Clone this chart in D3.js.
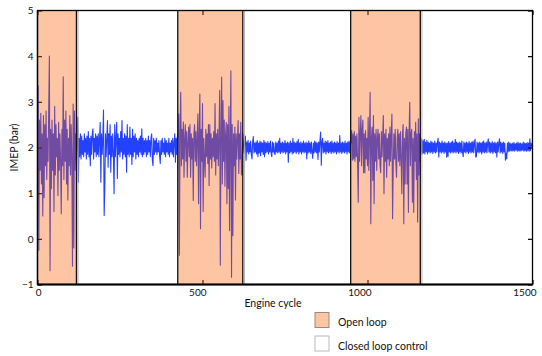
<!DOCTYPE html>
<html><head><meta charset="utf-8">
<script src="https://cdn.jsdelivr.net/npm/d3@7"></script>
<style>html,body{margin:0;padding:0;background:#fff;} svg{display:block;font-family:Lato,"Open Sans",sans-serif;}</style>
</head><body><svg id="c" width="542" height="356"></svg>
<script>
// IMEP readings, one every 2 engine cycles
const cycleStep = 2;
const openLoop1 = [2.0,3.35,-0.25,2.6,1.5,2.75,1.2,2.3,0.5,2.7,
  0.9,2.5,1.6,2.8,1.3,2.2,1.7,2.85,4.0,-0.7,
  2.4,1.1,2.6,1.5,2.3,0.6,2.9,1.4,2.5,1.8,
  2.2,0.95,2.55,1.5,2.3,1.7,0.55,2.4,1.6,3.55,
  1.3,2.6,1.7,2.8,1.2,2.4,0.85,2.2,1.6,2.7,
  1.4,2.5,1.8,-0.6,2.95,-0.2,2.8,1.5,2.3,1.7];
const closedLoop1 = [2.1,2.66,1.24,2.2,1.8,2.3,1.75,2.25,1.85,2.15,
  1.8,2.3,1.9,2.2,1.75,2.25,1.85,2.35,1.8,2.2,
  1.6,2.25,1.85,2.3,2.41,1.75,2.2,1.9,2.3,1.8,
  2.25,1.85,2.3,1.8,2.2,2.55,1.24,2.3,1.85,2.2,
  2.82,0.51,1.1,2.3,1.8,2.2,2.59,1.57,2.3,1.85,
  2.5,1.46,2.25,1.8,2.3,1.85,0.99,2.5,1.8,2.2,
  2.55,1.32,2.3,1.85,2.2,1.8,2.35,1.9,2.59,1.75,
  2.2,1.85,2.3,1.8,2.25,1.46,2.5,1.85,2.2,1.8,
  2.45,1.85,2.2,1.63,2.4,1.8,2.25,1.9,2.3,1.75,
  2.2,1.85,2.15,1.8,2.2,1.9,2.25,1.85,2.41,1.8,
  2.2,1.85,2.15,1.9,2.2,1.8,2.15,1.85,2.25,1.9,
  2.15,1.8,2.2,2.3,1.72,1.6,2.2,1.85,2.15,1.9,
  2.2,1.85,2.1,1.9,2.15,1.82,1.65,2.15,1.85,2.2,
  1.9,2.1,1.85,2.2,1.8,2.15,1.9,2.1,1.85,2.2,
  1.8,2.1,1.9,2.15,1.85,2.2,1.8,2.1,2.3,1.68,
  2.2,1.85,2.25];
const openLoop2 = [2.2,2.74,-0.36,2.3,3.21,1.6,2.4,1.75,2.56,1.35,
  2.2,2.5,1.7,2.35,1.35,2.1,2.45,1.8,2.5,1.35,
  2.3,1.75,2.2,0.84,2.3,2.5,1.7,2.35,1.6,2.2,
  2.74,0.77,2.3,3.17,0.22,2.4,1.7,2.96,0.6,2.2,
  1.75,1.35,2.4,1.8,2.3,1.65,2.5,1.17,2.5,1.75,
  2.3,1.55,2.2,1.8,2.35,1.7,2.96,1.4,2.3,1.75,
  2.4,1.6,2.2,3.25,-0.58,2.3,3.54,1.2,3.03,1.7,
  2.6,1.15,2.3,2.55,0.77,2.5,1.1,2.9,0.18,2.2,
  3.68,-0.84,2.5,0.07,2.3,1.6,2.45,0.85,2.3,1.75,
  2.2,2.59,1.43,2.3,1.75,2.55,1.4,1.45,2.3];
const closedLoop2 = [2.1,1.88,2.15,2.25,1.72,2.12,1.9,2.16,1.86,2.1,
  1.9,2.14,1.85,1.75,2.12,2.24,1.88,2.1,1.9,2.12,
  1.86,2.15,1.8,2.1,1.88,2.14,1.82,2.12,1.9,2.1,
  1.85,2.16,1.8,2.12,1.88,2.1,1.9,2.13,1.86,2.1,
  1.9,2.14,1.88,1.8,2.12,1.9,2.1,1.86,1.85,2.12,
  1.9,2.1,1.88,2.14,1.9,2.2,1.87,2.1,1.9,2.12,
  1.88,2.1,1.9,2.15,1.86,2.1,1.9,2.12,1.68,2.1,
  1.88,2.14,1.9,2.1,1.86,2.2,1.88,2.12,1.9,2.1,
  1.87,2.13,1.9,2.18,1.86,2.1,1.9,2.12,1.86,2.1,
  1.9,2.14,1.88,2.1,1.9,2.12,1.75,2.1,1.88,2.14,
  1.9,2.1,1.87,2.12,1.9,1.76,2.1,1.88,2.14,1.9,
  2.12,1.88,2.1,1.74,2.12,1.9,2.15,2.34,1.61,2.12,
  2.2,1.88,2.1,1.9,2.14,1.86,2.12,1.9,2.15,1.88,
  2.1,1.9,2.12,1.87,2.14,1.9,2.1,1.88,2.12,1.9,
  2.1,1.86,2.13,1.9,2.1,1.88,2.26,1.9,2.1,1.87,
  2.12,1.9,2.1,1.88,2.14,1.9,2.1,1.86,2.12,1.9,
  2.14,1.88,2.12];
const openLoop3 = [2.1,2.37,1.72,2.3,1.75,2.35,1.7,2.25,1.8,2.3,
  1.65,0.8,2.66,1.7,2.3,2.7,1.6,2.4,2.6,1.45,
  2.3,1.45,2.37,1.75,2.2,1.6,2.66,1.5,2.3,3.21,
  0.33,2.2,2.45,1.28,2.7,0.77,2.3,1.7,2.4,1.5,
  2.2,2.4,1.75,2.3,1.6,1.45,2.35,1.8,2.25,2.7,
  0.99,2.3,1.7,2.4,1.35,2.2,1.75,2.3,1.6,2.45,
  1.7,2.3,2.73,0.44,1.6,2.3,1.75,2.4,1.65,1.35,
  2.2,2.4,1.7,2.3,1.6,2.35,1.75,0.99,2.3,2.5,
  0.33,2.2,1.2,2.3,2.45,1.2,2.4,0.58,2.3,2.99,
  1.6,2.3,2.4,0.8,2.2,0.58,2.35,1.7,2.55,1.3,
  2.3,0.37,2.63,1.4,2.3,1.7];
const closedLoop3 = [1.9,2.19,1.86,2.15,1.88,2.18,1.86,2.12,1.9,2.16,
  1.86,2.12,1.9,2.1,1.88,2.14,1.9,2.12,1.87,2.1,
  1.9,2.14,1.88,2.1,1.9,2.12,2.2,1.79,2.12,1.9,
  2.1,1.88,2.14,1.9,2.1,1.87,2.12,1.9,2.1,1.79,
  2.1,1.8,2.13,1.9,2.1,1.88,2.12,1.9,2.14,1.88,
  2.1,1.9,2.18,1.88,2.12,1.9,2.1,1.87,2.12,1.9,
  2.1,1.88,2.14,1.9,1.8,2.12,1.9,2.1,1.88,2.12,
  1.9,2.1,1.87,2.13,1.9,2.1,1.88,2.12,1.9,2.14,
  1.88,2.1,2.18,1.79,1.8,2.12,1.9,2.1,1.88,2.12,
  1.9,2.1,1.86,2.12,1.9,2.14,1.88,2.1,1.9,2.12,
  1.88,2.1,2.19,1.9,2.12,1.88,2.1,1.9,2.13,1.87,
  2.1,1.9,2.12,1.88,2.1,1.79,2.12,1.9,2.1,2.19,
  1.88,2.12,1.9,2.1,1.87,2.12,1.9,2.1,1.72,1.88,
  1.75,2.1,1.9,2.12,1.92,2.1,1.93,2.08,1.92,2.1,
  1.93,2.11,1.92,2.08,1.94,2.1,1.92,2.12,1.93,2.09,
  1.92,2.1,1.93,2.08,1.94,2.12,1.92,2.1,1.93,2.09,
  1.92,2.11,1.93,2.1,1.92,2.19,1.93,2.1,2.02];
const openLoopRanges = [[0,118],[425,622],[949,1160]];
const xTicks = [0,500,1000,1500];
const yTicks = [-1,0,1,2,3,4,5];
const legendLabels = ["Open loop","Closed loop control"];
const xLabel = "Engine cycle", yLabel = "IMEP (bar)";

const imep = [].concat(openLoop1, closedLoop1, openLoop2, closedLoop2, openLoop3, closedLoop3);
const data = imep.map((v,i)=>({cycle:i*cycleStep, v}));

const svg = d3.select("#c");
svg.append("rect").attr("width",542).attr("height",356).attr("fill","#fff");
const L=37.5, R=532.5, T=10.5, B=284.5;
const x = d3.scaleLinear().domain([0,1500]).range([L,R]);
const y = d3.scaleLinear().domain([-1,5]).range([B,T]);

// line
svg.append("path").datum(data)
  .attr("d", d3.line().x(d=>x(d.cycle)).y(d=>y(d.v)))
  .attr("fill","none").attr("stroke","#2341ff").attr("stroke-width",1.1).attr("stroke-linejoin","round");

// axes (ticks inward)
const fs = "10px", fmt = d3.format("d");
const gB = svg.append("g").attr("transform",`translate(0,${B})`)
  .call(d3.axisBottom(x).tickValues(xTicks).tickFormat(fmt).tickSizeInner(-4.5).tickSizeOuter(0).tickPadding(4));
gB.selectAll("text").attr("text-anchor","end").attr("dx","0.35em").attr("dy","0.72em");
const gT = svg.append("g").attr("transform",`translate(0,${T})`)
  .call(d3.axisTop(x).tickValues(xTicks).tickSizeInner(-4.5).tickSizeOuter(0).tickFormat(""));
const gL = svg.append("g").attr("transform",`translate(${L},0)`)
  .call(d3.axisLeft(y).tickValues(yTicks).tickFormat(fmt).tickSizeInner(-4.5).tickSizeOuter(0).tickPadding(4));
const gR = svg.append("g").attr("transform",`translate(${R},0)`)
  .call(d3.axisRight(y).tickValues(yTicks).tickSizeInner(-4.5).tickSizeOuter(0).tickFormat(""));
[gB,gT,gL,gR].forEach(g=>{
  g.select(".domain").remove();
  g.selectAll("line").attr("stroke","#000").attr("stroke-width",1.2);
  g.selectAll("text").attr("fill","#111").style("font-size",fs).style("font-family","Lato,'Open Sans',sans-serif");
  g.attr("font-family",null).attr("font-size",null);
});

// open loop shading (translucent, over the line)
svg.append("g").selectAll("rect").data(openLoopRanges).join("rect")
  .attr("x",d=>x(d[0])).attr("y",T).attr("width",d=>x(d[1])-x(d[0])).attr("height",B-T)
  .attr("fill","rgb(249,94,0)").attr("fill-opacity",0.36);
// region edges
const edges = openLoopRanges.flat();
svg.append("g").selectAll("line").data(openLoopRanges.map(d=>d[1])).join("line")
  .attr("x1",d=>x(d)+1.6).attr("x2",d=>x(d)+1.6).attr("y1",T).attr("y2",B)
  .attr("stroke","#b0b0b0").attr("stroke-width",1);
svg.append("g").selectAll("line").data(edges).join("line")
  .attr("x1",d=>x(d)).attr("x2",d=>x(d)).attr("y1",T).attr("y2",B)
  .attr("stroke","#111").attr("stroke-width",1.3);

// frame
svg.append("rect").attr("x",L).attr("y",T).attr("width",R-L).attr("height",B-T)
  .attr("fill","none").attr("stroke","#000").attr("stroke-width",1.3);
svg.append("line").attr("x1",L).attr("x2",R).attr("y1",B).attr("y2",B).attr("stroke","#000").attr("stroke-width",2);

// axis titles
svg.append("text").attr("x",273).attr("y",307).attr("text-anchor","middle")
  .style("font-size","10.5px").attr("fill","#111").text(xLabel);
svg.append("text").attr("transform",`translate(17.5,${y(2)}) rotate(-90)`).attr("text-anchor","middle")
  .style("font-size","10.5px").attr("fill","#111").text(yLabel);

// legend
const leg = svg.append("g").selectAll("g").data(legendLabels).join("g")
  .attr("transform",(d,i)=>`translate(315,${312.5+i*23.5})`);
leg.append("rect").attr("width",14).attr("height",15)
  .attr("fill",(d,i)=>i===0?"#fdc5a2":"#fff")
  .attr("stroke",(d,i)=>i===0?"#9a8a80":"#b8b8b8").attr("stroke-width",1);
leg.append("text").attr("x",23).attr("y",13.5).style("font-size","10.5px").attr("fill","#111").text(d=>d);
</script></body></html>
